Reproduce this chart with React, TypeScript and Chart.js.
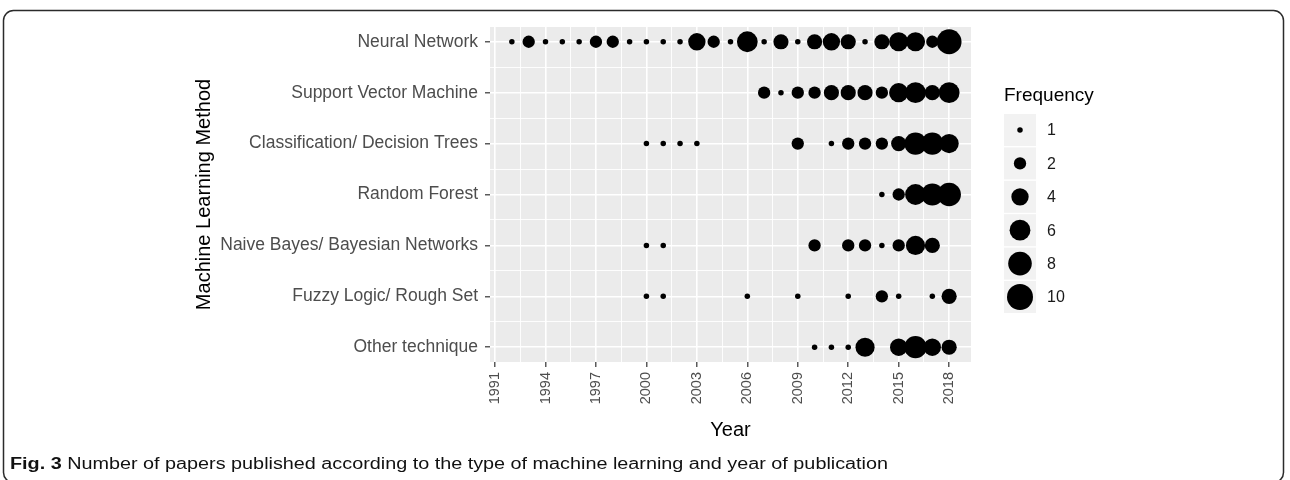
import React, { useEffect, useRef } from 'react';
import { Chart, registerables } from 'chart.js';

Chart.register(...registerables);

// ---------- data ----------
const methods = [
  'Neural Network',
  'Support Vector Machine',
  'Classification/ Decision Trees',
  'Random Forest',
  'Naive Bayes/ Bayesian Networks',
  'Fuzzy Logic/ Rough Set',
  'Other technique',
];

const years = [
  1992, 1993, 1994, 1995, 1996, 1997, 1998, 1999, 2000, 2001, 2002, 2003, 2004, 2005,
  2006, 2007, 2008, 2009, 2010, 2011, 2012, 2013, 2014, 2015, 2016, 2017, 2018,
];

// frequency per year (0 = no paper)
const neuralNetwork = [1, 2, 1, 1, 1, 2, 2, 1, 1, 1, 1, 4, 2, 1, 6, 1, 3, 1, 3, 4, 3, 1, 3, 5, 5, 2, 9];
const supportVectorMachine = [0, 0, 0, 0, 0, 0, 0, 0, 0, 0, 0, 0, 0, 0, 0, 2, 1, 2, 2, 3, 3, 3, 2, 5, 6, 3, 6];
const classificationTrees = [0, 0, 0, 0, 0, 0, 0, 0, 1, 1, 1, 1, 0, 0, 0, 0, 0, 2, 0, 1, 2, 2, 2, 3, 7, 7, 5];
const randomForest = [0, 0, 0, 0, 0, 0, 0, 0, 0, 0, 0, 0, 0, 0, 0, 0, 0, 0, 0, 0, 0, 0, 1, 2, 6, 7, 8];
const naiveBayes = [0, 0, 0, 0, 0, 0, 0, 0, 1, 1, 0, 0, 0, 0, 0, 0, 0, 0, 2, 0, 2, 2, 1, 2, 5, 3, 0];
const fuzzyLogic = [0, 0, 0, 0, 0, 0, 0, 0, 1, 1, 0, 0, 0, 0, 1, 0, 0, 1, 0, 0, 1, 0, 2, 1, 0, 1, 3];
const otherTechnique = [0, 0, 0, 0, 0, 0, 0, 0, 0, 0, 0, 0, 0, 0, 0, 0, 0, 0, 1, 1, 1, 5, 0, 4, 7, 4, 3];

const yearTicks = [1991, 1994, 1997, 2000, 2003, 2006, 2009, 2012, 2015, 2018];
const legendValues = [1, 2, 4, 6, 8, 10];
const legendTitle = 'Frequency';
const xTitle = 'Year';
const yTitle = 'Machine Learning Method';
const captionBold = 'Fig. 3';
const captionText =
  ' Number of papers published according to the type of machine learning and year of publication';

// ---------- helpers ----------
const FONT = '"Liberation Sans", Arial, Helvetica, sans-serif';
const sizeMin = 1;
const sizeMax = 10;
function diameter(f: number) {
  return 5.5 + 20.5 * Math.sqrt((f - sizeMin) / (sizeMax - sizeMin));
}

const methodSeries = [
  neuralNetwork,
  supportVectorMachine,
  classificationTrees,
  randomForest,
  naiveBayes,
  fuzzyLogic,
  otherTechnique,
];

function buildPoints() {
  const pts: { x: number; y: number; f: number }[] = [];
  methodSeries.forEach((series, m) => {
    series.forEach((f, j) => {
      if (f > 0) pts.push({ x: years[j], y: m, f });
    });
  });
  return pts;
}

const isMajorX = (v: any) => yearTicks.includes(v);
const isMajorY = (v: any) => typeof v === 'number' && Number.isInteger(v);

const panelBg = {
  id: 'panelBg',
  beforeDraw(chart: any) {
    const { ctx, chartArea: a } = chart;
    ctx.save();
    ctx.fillStyle = '#EBEBEB';
    ctx.fillRect(a.left, a.top, a.right - a.left, a.bottom - a.top);
    ctx.restore();
  },
};

const overlay = {
  id: 'overlay',
  afterDraw(chart: any) {
    const ctx: CanvasRenderingContext2D = chart.ctx;
    ctx.save();
    // frame
    const fx = 3.5, fy = 10.5, fw = 1280, fh = 472, rr = 10;
    ctx.strokeStyle = '#2b2b2b';
    ctx.lineWidth = 1.5;
    ctx.beginPath();
    ctx.moveTo(fx + rr, fy);
    ctx.lineTo(fx + fw - rr, fy);
    ctx.arcTo(fx + fw, fy, fx + fw, fy + rr, rr);
    ctx.lineTo(fx + fw, fy + fh - rr);
    ctx.arcTo(fx + fw, fy + fh, fx + fw - rr, fy + fh, rr);
    ctx.lineTo(fx + rr, fy + fh);
    ctx.arcTo(fx, fy + fh, fx, fy + fh - rr, rr);
    ctx.lineTo(fx, fy + rr);
    ctx.arcTo(fx, fy, fx + rr, fy, rr);
    ctx.closePath();
    ctx.stroke();

    // legend
    const lx = 1004, kw = 32, kh = 32, firstY = 130, step = 33.4;
    ctx.fillStyle = '#000';
    ctx.font = `19px ${FONT}`;
    ctx.textAlign = 'left';
    ctx.textBaseline = 'middle';
    ctx.fillText(legendTitle, lx, 96);
    legendValues.forEach((v, i) => {
      const cy = firstY + i * step;
      ctx.fillStyle = '#F2F2F2';
      ctx.fillRect(lx, cy - kh / 2, kw, kh);
      ctx.fillStyle = '#000';
      ctx.beginPath();
      ctx.arc(lx + kw / 2, cy, diameter(v) / 2, 0, Math.PI * 2);
      ctx.fill();
      ctx.fillStyle = '#1a1a1a';
      ctx.font = `16px ${FONT}`;
      ctx.textBaseline = 'middle';
      ctx.fillText(String(v), 1047, cy + 1);
    });

    // caption
    const cx0 = 10, cy0 = 469, targetW = 878;
    ctx.textBaseline = 'alphabetic';
    ctx.font = `bold 16px ${FONT}`;
    const wb = ctx.measureText(captionBold).width;
    ctx.font = `16px ${FONT}`;
    const wt = ctx.measureText(captionText).width;
    const sx = targetW / (wb + wt);
    ctx.translate(cx0, cy0);
    ctx.scale(sx, 1);
    ctx.fillStyle = '#111';
    ctx.font = `bold 16px ${FONT}`;
    ctx.fillText(captionBold, 0, 0);
    ctx.font = `16px ${FONT}`;
    ctx.fillText(captionText, wb, 0);
    ctx.restore();
  },
};

export default function App() {
  const ref = useRef<HTMLCanvasElement | null>(null);

  useEffect(() => {
    if (!ref.current) return;
    const xTickList: number[] = [];
    yearTicks.forEach((v, i) => {
      xTickList.push(v);
      if (i < yearTicks.length - 1) xTickList.push((v + yearTicks[i + 1]) / 2);
    });
    const yTickList: number[] = [];
    methods.forEach((_, i) => {
      yTickList.push(i);
      if (i < methods.length - 1) yTickList.push(i + 0.5);
    });

    const chart = new Chart(ref.current, {
      type: 'scatter',
      data: {
        datasets: [
          {
            data: buildPoints() as any,
            pointRadius: (c: any) => (c.raw ? diameter(c.raw.f) / 2 : 0),
            pointHoverRadius: (c: any) => (c.raw ? diameter(c.raw.f) / 2 : 0),
            pointBackgroundColor: '#000',
            pointBorderWidth: 0,
            pointBorderColor: '#000',
          } as any,
        ],
      },
      options: {
        animation: false,
        responsive: false,
        devicePixelRatio: 1,
        events: [],
        layout: { padding: { left: 192, right: 319, top: 27, bottom: 38 } },
        plugins: { legend: { display: false }, tooltip: { enabled: false } },
        scales: {
          x: {
            type: 'linear',
            min: 1990.7,
            max: 2019.3,
            afterBuildTicks: (s: any) => {
              s.ticks = xTickList.map((v) => ({ value: v }));
            },
            afterFit: (s: any) => {
              s.height = 80;
            },
            border: { display: false },
            grid: {
              color: '#FFFFFF',
              lineWidth: (c: any) => (isMajorX(c.tick?.value) ? 1.6 : 0.9),
              tickColor: (c: any) => (isMajorX(c.tick?.value) ? '#333333' : 'rgba(0,0,0,0)'),
              tickLength: 5,
              tickWidth: 1.2,
            },
            ticks: {
              autoSkip: false,
              minRotation: 90,
              maxRotation: 90,
              padding: 5,
              color: '#4D4D4D',
              font: { family: FONT, size: 14.5 },
              callback: (v: any) => (isMajorX(v) ? String(v) : ''),
            },
            title: {
              display: true,
              text: xTitle,
              color: '#000',
              font: { family: FONT, size: 20 },
              padding: 0,
            },
          },
          y: {
            type: 'linear',
            reverse: true,
            min: -0.29,
            max: methods.length - 1 + 0.29,
            afterBuildTicks: (s: any) => {
              s.ticks = yTickList.map((v) => ({ value: v }));
            },
            afterFit: (s: any) => {
              s.width = 298;
            },
            border: { display: false },
            grid: {
              color: '#FFFFFF',
              lineWidth: (c: any) => (isMajorY(c.tick?.value) ? 1.6 : 0.9),
              tickColor: (c: any) => (isMajorY(c.tick?.value) ? '#333333' : 'rgba(0,0,0,0)'),
              tickLength: 5,
              tickWidth: 1.2,
            },
            ticks: {
              autoSkip: false,
              padding: 7,
              color: '#4D4D4D',
              font: { family: FONT, size: 17.5 },
              callback: (v: any) => (isMajorY(v) ? methods[v] : ''),
            },
            title: {
              display: true,
              text: yTitle,
              color: '#000',
              font: { family: FONT, size: 20 },
              padding: 0,
            },
          },
        },
      },
      plugins: [panelBg, overlay],
    } as any);
    return () => chart.destroy();
  }, []);

  return (
    <div style={{ position: 'fixed', left: 0, top: 0, width: 1290, height: 480, background: '#fff' }}>
      <canvas ref={ref} width={1290} height={480} style={{ display: 'block', width: 1290, height: 480 }} />
    </div>
  );
}
